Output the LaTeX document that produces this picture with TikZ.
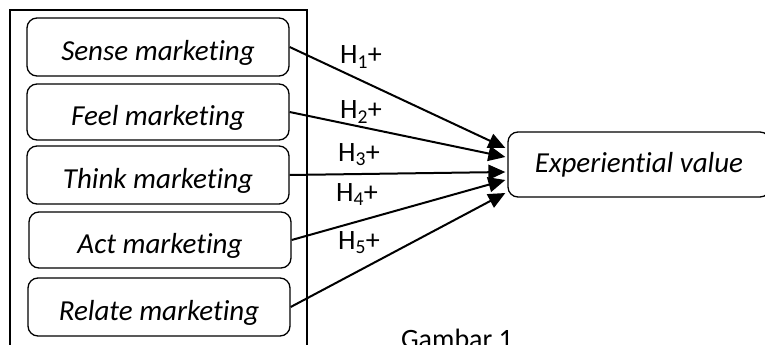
\documentclass[tikz,border=0pt]{standalone}
\usepackage{fontspec}
\setmainfont{Carlito}[Ligatures=NoCommon]
\usetikzlibrary{positioning,arrows.meta}

\tikzset{
  mbox/.style={draw, rounded corners=10pt, line width=1.3pt, minimum width=262pt,
    inner sep=0pt, font=\itshape\fontsize{29}{34}\selectfont},
  low/.style={text height=29pt, text depth=3pt},
  hyp/.style={-{Triangle[length=17pt,width=15pt]}, line width=2pt},
  hlabel/.style={font=\fontsize{28}{33}\selectfont, inner sep=0pt}
}

\begin{document}
\begin{tikzpicture}[x=1pt,y=-1pt]
    \clip (0,0) rectangle (765,345);
    \fill[white] (0,0) rectangle (765,345);

    % Frame round the five dimensions
    \draw[line width=1.3pt] (10,10) rectangle (307,360);

    % Dimensions
    \foreach \i/\t/\x/\y/\h in {1/Sense/158/47/58, 2/Feel/158/112/56, 3/Think/158/175/58, 4/Act/160/240/56, 5/Relate/159/307/58} {
      \node[mbox, low, minimum height=\h pt] (m\i) at (\x,\y) {\t{} marketing};
    }

    % Outcome
    \node[mbox, minimum height=65pt] (ev) at (639,164.5) {Experiential value};

    % Hypotheses: arrow tips and labels
    \foreach \i/\dy/\lx/\ly in {1/16.5/361/57, 2/7.5/361/112, 3/-7.5/359/155, 4/-15.5/357/195, 5/-28.5/359/243} {
      \draw[hyp] (m\i.east) -- ([xshift=-2pt,yshift=\dy pt]ev.west);
      \node[hlabel] (h\i) at (\lx,\ly) {H\textsubscript{\i}+};
    }

    \node[font=\fontsize{28}{33}\selectfont, anchor=north] (cap) at (457,326) {Gambar 1};
\end{tikzpicture}
\end{document}
